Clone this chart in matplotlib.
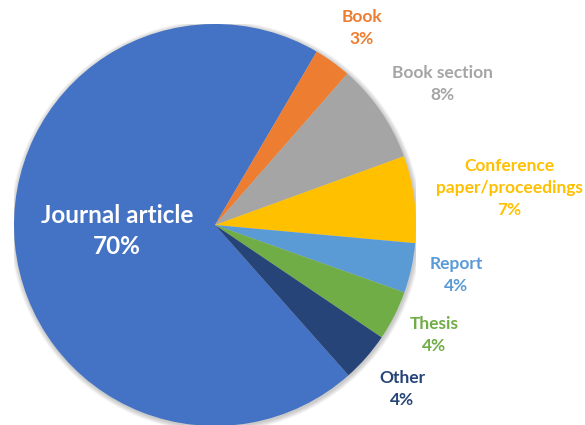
import matplotlib.pyplot as plt
from matplotlib.patches import Circle

# publication types
categories = ['Journal article', 'Book', 'Book section', 'Conference\npaper/proceedings',
              'Report', 'Thesis', 'Other']
shares = [70, 3, 8, 7, 4, 4, 4]
colors = ['#4472C4', '#ED7D31', '#A5A5A5', '#FFC000', '#5B9BD5', '#70AD47', '#264478']

# label centres in pixels (x from left, y from top)
label_px = [(117, 231), (362, 28), (442, 84), (509, 188), (456, 275), (434, 335), (402, 389)]

W, H = 585, 425
cx, cy, R = 215, 225, 201

fig = plt.figure(figsize=(W / 100, H / 100), dpi=100)
ax = fig.add_axes([(cx - R) / W, (H - cy - R) / H, 2 * R / W, 2 * R / H])
ax.set_xlim(-1, 1)
ax.set_ylim(-1, 1)
ax.set_aspect('equal')
ax.axis('off')

# soft shadow round the rim
for i in range(6):
    ax.add_patch(Circle((0.004, -0.006), 1.0 + 0.004 * (i + 1), color='black',
                        alpha=0.035, lw=0, zorder=0))

ax.pie(shares, colors=colors, radius=1, startangle=-48.4, counterclock=False,
       wedgeprops=dict(linewidth=0), frame=True)
ax.set_xlim(-1, 1)
ax.set_ylim(-1, 1)
ax.axis('off')

for i, (name, v) in enumerate(zip(categories, shares)):
    px, py = label_px[i]
    x = (px - cx) / R
    y = (cy - py) / R
    big = i == 0
    ax.text(x, y, f'{name}\n{v}%', ha='center', va='center', fontsize=17.5 if big else 12.5,
            fontweight='bold', family='Lato', color='white' if big else colors[i],
            linespacing=1.45, clip_on=False)

fig.savefig('out.png', dpi=100)
